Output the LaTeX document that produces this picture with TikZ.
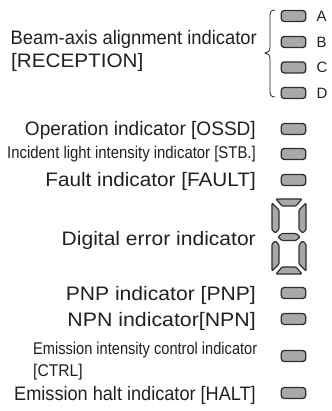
\documentclass[tikz,border=0pt]{standalone}
\usepackage{fontspec}
\usepackage{graphicx}
\setmainfont{Liberation Sans}
\definecolor{txtc}{HTML}{231F20}
\definecolor{ledfill}{HTML}{A8A8AA}
\definecolor{ledline}{HTML}{2E2E2E}
\newcommand\sx[2]{\scalebox{#1}[1]{#2}}
\tikzset{
  lbl/.style={anchor=base east, inner sep=0pt, font=\fontsize{19.5}{22}\selectfont, text=txtc},
  lblw/.style={lbl, anchor=base west},
  small/.style={lbl, font=\fontsize{17}{20}\selectfont},
  smallw/.style={small, anchor=base west},
  letter/.style={anchor=west, inner sep=0pt, font=\fontsize{15}{16}\selectfont, text=txtc},
  led/.style={draw=ledline, fill=ledfill, line width=1.3pt, rounded corners=3pt,
    minimum width=24.5pt, minimum height=11pt, inner sep=0pt},
  seg/.style={draw=ledline, fill=ledfill, line width=1.2pt, rounded corners=1pt, line join=round},
  bracec/.style={draw=txtc, line width=0.8pt}
}
\begin{document}
\begin{tikzpicture}[x=1pt,y=-1pt]
\useasboundingbox (0,0) rectangle (331,411);
% Beam-axis group
\node[lbl] (beam) at (257,44.5) {\sx{0.942}{Beam-axis alignment indicator}};
\node[lblw] (rec) at (11,67.5) {\sx{1.06}{[RECEPTION]}};
\node[led] (ledA) at (293.5,16) {};
\node[led] (ledB) at (293.5,42) {};
\node[led] (ledC) at (293.5,67.5) {};
\node[led] (ledD) at (293.5,93) {};
\node[letter] (la) at (316.5,16) {A};
\node[letter] (lb) at (316.5,42) {B};
\node[letter] (lc) at (316.5,67.5) {C};
\node[letter] (ld) at (316.5,93) {D};
\draw[bracec] (275,10) .. controls (271,10) and (270,12) .. (270,16) -- (270,47)
  .. controls (270,51) and (268,53) .. (265,53)
  .. controls (268,53) and (270,55) .. (270,59) -- (270,91)
  .. controls (270,95) and (271,97) .. (275,97);
% single indicators
\node[lbl] (ossd) at (256,136) {\sx{0.977}{Operation indicator [OSSD]}};
\node[small] (stb) at (256,159) {\sx{0.877}{Incident light intensity indicator [STB.]}};
\node[lbl] (fault) at (256,186.5) {\sx{1.063}{Fault indicator [FAULT]}};
\node[led] (ledossd) at (293.5,129) {};
\node[led] (ledstb) at (293.5,154) {};
\node[led] (ledfault) at (293.5,180) {};
% digital
\node[lbl] (dig) at (256,245) {\sx{1.079}{Digital error indicator}};
\path[seg] (276,199) -- (302,199) -- (296,206) -- (282,206) -- cycle;
\path[seg] (272,203) -- (279,210) -- (279,229) -- (275.5,233) -- (272,230) -- cycle;
\path[seg] (306,203) -- (299,210) -- (299,229) -- (302.5,233) -- (306,230) -- cycle;
\path[seg] (278,237) -- (282,233.5) -- (296,233.5) -- (300,237) -- (296,240.5) -- (282,240.5) -- cycle;
\path[seg] (272,244) -- (275.5,241) -- (279,245) -- (279,264) -- (272,271) -- cycle;
\path[seg] (306,244) -- (302.5,241) -- (299,245) -- (299,264) -- (306,271) -- cycle;
\path[seg] (282,267) -- (296,267) -- (302,274) -- (276,274) -- cycle;
% outputs
\node[lbl] (pnp) at (256,300) {\sx{1.082}{PNP indicator [PNP]}};
\node[lbl] (npn) at (256,326.5) {\sx{1.093}{NPN indicator[NPN]}};
\node[smallw] (ctrl1) at (33,354) {\sx{0.859}{Emission intensity control indicator}};
\node[smallw] (ctrl2) at (33,376) {\sx{0.92}{[CTRL]}};
\node[lbl] (halt) at (256,400) {\sx{0.93}{Emission halt indicator [HALT]}};
\node[led] (ledpnp) at (293.5,293) {};
\node[led] (lednpn) at (293.5,319) {};
\node[led] (ledctrl) at (293.5,356) {};
\node[led] (ledhalt) at (293.5,393) {};
\end{tikzpicture}
\end{document}
